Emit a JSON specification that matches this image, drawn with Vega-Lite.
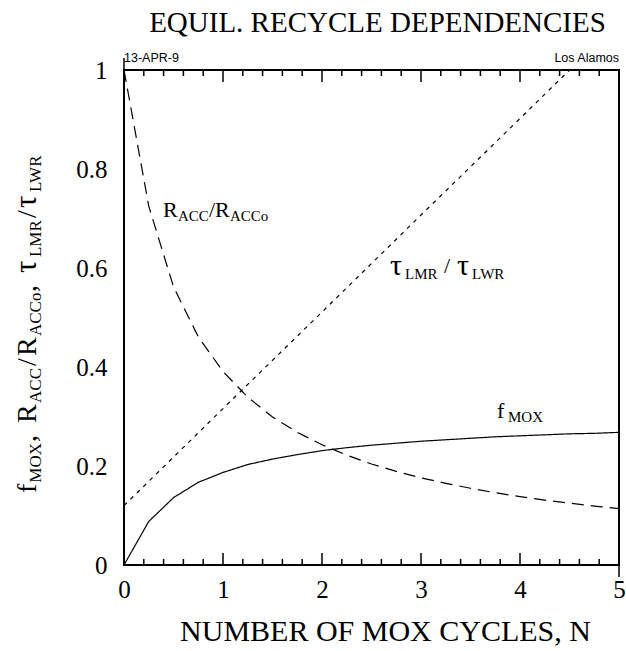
{
  "$schema": "https://vega.github.io/schema/vega-lite/v6.json",
  "width": 495,
  "height": 495,
  "autosize": "none",
  "padding": {"left": 124, "top": 70, "right": 7, "bottom": 86},
  "background": "white",
  "title": {"text": "EQUIL. RECYCLE DEPENDENCIES", "font": "Liberation Serif", "fontSize": 29, "fontWeight": "normal", "color": "black", "anchor": "middle", "dx": 6, "offset": 14},
  "config": {"view": {"stroke": "black", "strokeWidth": 2}, "font": "Liberation Serif"},
  "resolve": {"axis": {"x": "independent", "y": "independent"}},
  "datasets": {
    "curves": [
      {"series": "f", "N": 0, "v": 0}, {"series": "f", "N": 0.25, "v": 0.088}, {"series": "f", "N": 0.5, "v": 0.136}, {"series": "f", "N": 0.75, "v": 0.167}, {"series": "f", "N": 1, "v": 0.187}, {"series": "f", "N": 1.25, "v": 0.203}, {"series": "f", "N": 1.5, "v": 0.214}, {"series": "f", "N": 1.75, "v": 0.223}, {"series": "f", "N": 2, "v": 0.231}, {"series": "f", "N": 2.25, "v": 0.237}, {"series": "f", "N": 2.5, "v": 0.242}, {"series": "f", "N": 2.75, "v": 0.246}, {"series": "f", "N": 3, "v": 0.25}, {"series": "f", "N": 3.25, "v": 0.253}, {"series": "f", "N": 3.5, "v": 0.256}, {"series": "f", "N": 3.75, "v": 0.259}, {"series": "f", "N": 4, "v": 0.261}, {"series": "f", "N": 4.25, "v": 0.263}, {"series": "f", "N": 4.5, "v": 0.265}, {"series": "f", "N": 4.75, "v": 0.266}, {"series": "f", "N": 5, "v": 0.268},
      {"series": "R", "N": 0, "v": 1}, {"series": "R", "N": 0.25, "v": 0.725}, {"series": "R", "N": 0.5, "v": 0.562}, {"series": "R", "N": 0.75, "v": 0.461}, {"series": "R", "N": 1, "v": 0.391}, {"series": "R", "N": 1.25, "v": 0.339}, {"series": "R", "N": 1.5, "v": 0.299}, {"series": "R", "N": 1.75, "v": 0.268}, {"series": "R", "N": 2, "v": 0.243}, {"series": "R", "N": 2.25, "v": 0.222}, {"series": "R", "N": 2.5, "v": 0.204}, {"series": "R", "N": 2.75, "v": 0.189}, {"series": "R", "N": 3, "v": 0.176}, {"series": "R", "N": 3.25, "v": 0.165}, {"series": "R", "N": 3.5, "v": 0.155}, {"series": "R", "N": 3.75, "v": 0.146}, {"series": "R", "N": 4, "v": 0.138}, {"series": "R", "N": 4.25, "v": 0.131}, {"series": "R", "N": 4.5, "v": 0.125}, {"series": "R", "N": 4.75, "v": 0.119}, {"series": "R", "N": 5, "v": 0.114},
      {"series": "tau", "N": 0, "v": 0.12}, {"series": "tau", "N": 1, "v": 0.316}, {"series": "tau", "N": 2, "v": 0.511}, {"series": "tau", "N": 3, "v": 0.707}, {"series": "tau", "N": 4, "v": 0.902}, {"series": "tau", "N": 4.5, "v": 1.0}
    ],
    "xticks": [
      {"pos": 0, "kind": "major", "bottom": 0, "top": 1}, {"pos": 0.2, "kind": "minor", "bottom": 0, "top": 1}, {"pos": 0.4, "kind": "minor", "bottom": 0, "top": 1}, {"pos": 0.6, "kind": "minor", "bottom": 0, "top": 1}, {"pos": 0.8, "kind": "minor", "bottom": 0, "top": 1},
      {"pos": 1, "kind": "major", "bottom": 0, "top": 1}, {"pos": 1.2, "kind": "minor", "bottom": 0, "top": 1}, {"pos": 1.4, "kind": "minor", "bottom": 0, "top": 1}, {"pos": 1.6, "kind": "minor", "bottom": 0, "top": 1}, {"pos": 1.8, "kind": "minor", "bottom": 0, "top": 1},
      {"pos": 2, "kind": "major", "bottom": 0, "top": 1}, {"pos": 2.2, "kind": "minor", "bottom": 0, "top": 1}, {"pos": 2.4, "kind": "minor", "bottom": 0, "top": 1}, {"pos": 2.6, "kind": "minor", "bottom": 0, "top": 1}, {"pos": 2.8, "kind": "minor", "bottom": 0, "top": 1},
      {"pos": 3, "kind": "major", "bottom": 0, "top": 1}, {"pos": 3.2, "kind": "minor", "bottom": 0, "top": 1}, {"pos": 3.4, "kind": "minor", "bottom": 0, "top": 1}, {"pos": 3.6, "kind": "minor", "bottom": 0, "top": 1}, {"pos": 3.8, "kind": "minor", "bottom": 0, "top": 1},
      {"pos": 4, "kind": "major", "bottom": 0, "top": 1}, {"pos": 4.2, "kind": "minor", "bottom": 0, "top": 1}, {"pos": 4.4, "kind": "minor", "bottom": 0, "top": 1}, {"pos": 4.6, "kind": "minor", "bottom": 0, "top": 1}, {"pos": 4.8, "kind": "minor", "bottom": 0, "top": 1},
      {"pos": 5, "kind": "major", "bottom": 0, "top": 1}
    ],
    "yticks": [
      {"pos": 0, "kind": "major", "left": 0, "right": 5}, {"pos": 0.04, "kind": "minor", "left": 0, "right": 5}, {"pos": 0.08, "kind": "minor", "left": 0, "right": 5}, {"pos": 0.12, "kind": "minor", "left": 0, "right": 5}, {"pos": 0.16, "kind": "minor", "left": 0, "right": 5},
      {"pos": 0.2, "kind": "major", "left": 0, "right": 5}, {"pos": 0.24, "kind": "minor", "left": 0, "right": 5}, {"pos": 0.28, "kind": "minor", "left": 0, "right": 5}, {"pos": 0.32, "kind": "minor", "left": 0, "right": 5}, {"pos": 0.36, "kind": "minor", "left": 0, "right": 5},
      {"pos": 0.4, "kind": "major", "left": 0, "right": 5}, {"pos": 0.44, "kind": "minor", "left": 0, "right": 5}, {"pos": 0.48, "kind": "minor", "left": 0, "right": 5}, {"pos": 0.52, "kind": "minor", "left": 0, "right": 5}, {"pos": 0.56, "kind": "minor", "left": 0, "right": 5},
      {"pos": 0.6, "kind": "major", "left": 0, "right": 5}, {"pos": 0.64, "kind": "minor", "left": 0, "right": 5}, {"pos": 0.68, "kind": "minor", "left": 0, "right": 5}, {"pos": 0.72, "kind": "minor", "left": 0, "right": 5}, {"pos": 0.76, "kind": "minor", "left": 0, "right": 5},
      {"pos": 0.8, "kind": "major", "left": 0, "right": 5}, {"pos": 0.84, "kind": "minor", "left": 0, "right": 5}, {"pos": 0.88, "kind": "minor", "left": 0, "right": 5}, {"pos": 0.92, "kind": "minor", "left": 0, "right": 5}, {"pos": 0.96, "kind": "minor", "left": 0, "right": 5},
      {"pos": 1, "kind": "major", "left": 0, "right": 5}
    ],
    "labels": [
      {"kind": "main", "t": "R", "x": 0.394, "y": 0.703},
      {"kind": "sub", "t": "ACC", "x": 0.545, "y": 0.695},
      {"kind": "main", "t": "/", "x": 0.859, "y": 0.703},
      {"kind": "main", "t": "R", "x": 0.919, "y": 0.703},
      {"kind": "sub", "t": "ACCo", "x": 1.071, "y": 0.695},
      {"kind": "tau", "t": "τ", "x": 2.687, "y": 0.586},
      {"kind": "sub", "t": "LMR", "x": 2.839, "y": 0.578},
      {"kind": "main", "t": "/", "x": 3.233, "y": 0.59},
      {"kind": "tau", "t": "τ", "x": 3.364, "y": 0.586},
      {"kind": "sub", "t": "LWR", "x": 3.516, "y": 0.578},
      {"kind": "main", "t": "f", "x": 3.768, "y": 0.297},
      {"kind": "sub", "t": "MOX", "x": 3.879, "y": 0.289},
      {"kind": "ymain", "t": "f", "x": -0.889, "y": 0.1455},
      {"kind": "ysub", "t": "MOX", "x": -0.838, "y": 0.1663},
      {"kind": "ymain", "t": ",", "x": -0.889, "y": 0.2485},
      {"kind": "ymain", "t": "R", "x": -0.889, "y": 0.2869},
      {"kind": "ysub", "t": "ACC", "x": -0.838, "y": 0.3273},
      {"kind": "ymain", "t": "/", "x": -0.889, "y": 0.402},
      {"kind": "ymain", "t": "R", "x": -0.889, "y": 0.4222},
      {"kind": "ysub", "t": "ACCo", "x": -0.838, "y": 0.4626},
      {"kind": "ymain", "t": ",", "x": -0.889, "y": 0.5515},
      {"kind": "ytau", "t": "τ", "x": -0.889, "y": 0.5899},
      {"kind": "ysub", "t": "LMR", "x": -0.838, "y": 0.6222},
      {"kind": "ymain", "t": "/", "x": -0.889, "y": 0.701},
      {"kind": "ytau", "t": "τ", "x": -0.889, "y": 0.7212},
      {"kind": "ysub", "t": "LWR", "x": -0.838, "y": 0.7535},
      {"kind": "hdrL", "t": "13-APR-9", "x": 0, "y": 1.016},
      {"kind": "hdrR", "t": "Los Alamos", "x": 5, "y": 1.016}
    ]
  },
  "layer": [
    {
      "data": {"name": "curves"},
      "mark": {"type": "line", "color": "black", "strokeWidth": 1.2, "clip": true},
      "encoding": {
        "x": {"field": "N", "type": "quantitative", "scale": {"domain": [0, 5], "nice": false, "zero": false},
          "axis": {"orient": "bottom", "values": [0, 1, 2, 3, 4, 5], "ticks": false, "domain": false, "grid": false,
            "labelFont": "Liberation Serif", "labelFontSize": 25, "labelColor": "black", "labelPadding": 12, "labelFlush": false, "labelOverlap": false, "format": "~g",
            "title": "NUMBER OF MOX CYCLES, N", "titleFont": "Liberation Serif", "titleFontSize": 30, "titleFontWeight": "normal", "titleColor": "black", "titlePadding": 14, "titleX": 261, "titleAlign": "center"}},
        "y": {"field": "v", "type": "quantitative", "scale": {"domain": [0, 1], "nice": false, "zero": false},
          "axis": {"orient": "left", "values": [0, 0.2, 0.4, 0.6, 0.8, 1], "ticks": false, "domain": false, "grid": false,
            "labelFont": "Liberation Serif", "labelFontSize": 25, "labelColor": "black", "labelPadding": 17, "labelFlush": false, "labelOverlap": false, "format": "~g", "title": null}},
        "strokeDash": {"field": "series", "type": "nominal", "scale": {"domain": ["f", "R", "tau"], "range": [[1, 0], [12, 7], [4, 5]]}, "legend": null},
        "detail": {"field": "series"}
      }
    },
    {
      "data": {"name": "xticks"},
      "transform": [{"fold": ["bottom", "top"], "as": ["edge", "ev"]}],
      "mark": {"type": "point", "filled": false, "color": "black", "strokeWidth": 1.5, "opacity": 1},
      "encoding": {
        "x": {"field": "pos", "type": "quantitative", "scale": {"domain": [0, 5], "nice": false, "zero": false}, "axis": null},
        "y": {"field": "ev", "type": "quantitative", "scale": {"domain": [0, 1], "nice": false, "zero": false}, "axis": null},
        "shape": {"field": "edge", "type": "nominal", "scale": {"domain": ["bottom", "top"], "range": ["M0,0L0,-1", "M0,0L0,1"]}, "legend": null},
        "size": {"field": "kind", "type": "ordinal", "scale": {"domain": ["major", "minor"], "range": [576, 144]}, "legend": null}
      }
    },
    {
      "data": {"name": "yticks"},
      "transform": [{"fold": ["left", "right"], "as": ["edge", "ev"]}],
      "mark": {"type": "point", "filled": false, "color": "black", "strokeWidth": 1.5, "opacity": 1},
      "encoding": {
        "x": {"field": "ev", "type": "quantitative", "scale": {"domain": [0, 5], "nice": false, "zero": false}, "axis": null},
        "y": {"field": "pos", "type": "quantitative", "scale": {"domain": [0, 1], "nice": false, "zero": false}, "axis": null},
        "shape": {"field": "edge", "type": "nominal", "scale": {"domain": ["left", "right"], "range": ["M0,0L1,0", "M0,0L-1,0"]}, "legend": null},
        "size": {"field": "kind", "type": "ordinal", "scale": {"domain": ["major", "minor"], "range": [576, 144]}, "legend": null}
      }
    },
    {
      "data": {"name": "labels"},
      "transform": [{"filter": "datum.kind === 'main'"}],
      "mark": {"type": "text", "font": "Liberation Serif", "fontSize": 22, "align": "left", "baseline": "alphabetic", "color": "black"},
      "encoding": {
        "x": {"field": "x", "type": "quantitative", "scale": {"domain": [0, 5], "nice": false, "zero": false}, "axis": null},
        "y": {"field": "y", "type": "quantitative", "scale": {"domain": [0, 1], "nice": false, "zero": false}, "axis": null},
        "text": {"field": "t"}
      }
    },
    {
      "data": {"name": "labels"},
      "transform": [{"filter": "datum.kind === 'sub'"}],
      "mark": {"type": "text", "font": "Liberation Serif", "fontSize": 15, "align": "left", "baseline": "alphabetic", "color": "black"},
      "encoding": {
        "x": {"field": "x", "type": "quantitative", "scale": {"domain": [0, 5], "nice": false, "zero": false}, "axis": null},
        "y": {"field": "y", "type": "quantitative", "scale": {"domain": [0, 1], "nice": false, "zero": false}, "axis": null},
        "text": {"field": "t"}
      }
    },
    {
      "data": {"name": "labels"},
      "transform": [{"filter": "datum.kind === 'ymain'"}],
      "mark": {"type": "text", "font": "Liberation Serif", "fontSize": 28, "align": "left", "baseline": "alphabetic", "angle": 270, "color": "black"},
      "encoding": {
        "x": {"field": "x", "type": "quantitative", "scale": {"domain": [0, 5], "nice": false, "zero": false}, "axis": null},
        "y": {"field": "y", "type": "quantitative", "scale": {"domain": [0, 1], "nice": false, "zero": false}, "axis": null},
        "text": {"field": "t"}
      }
    },
    {
      "data": {"name": "labels"},
      "transform": [{"filter": "datum.kind === 'ysub'"}],
      "mark": {"type": "text", "font": "Liberation Serif", "fontSize": 17, "align": "left", "baseline": "alphabetic", "angle": 270, "color": "black"},
      "encoding": {
        "x": {"field": "x", "type": "quantitative", "scale": {"domain": [0, 5], "nice": false, "zero": false}, "axis": null},
        "y": {"field": "y", "type": "quantitative", "scale": {"domain": [0, 1], "nice": false, "zero": false}, "axis": null},
        "text": {"field": "t"}
      }
    },
    {
      "data": {"name": "labels"},
      "transform": [{"filter": "datum.kind === 'ytau'"}],
      "mark": {"type": "text", "font": "Liberation Serif", "fontSize": 31, "align": "left", "baseline": "alphabetic", "angle": 270, "color": "black"},
      "encoding": {
        "x": {"field": "x", "type": "quantitative", "scale": {"domain": [0, 5], "nice": false, "zero": false}, "axis": null},
        "y": {"field": "y", "type": "quantitative", "scale": {"domain": [0, 1], "nice": false, "zero": false}, "axis": null},
        "text": {"field": "t"}
      }
    },
    {
      "data": {"name": "labels"},
      "transform": [{"filter": "datum.kind === 'tau'"}],
      "mark": {"type": "text", "font": "Liberation Serif", "fontSize": 30, "align": "left", "baseline": "alphabetic", "color": "black"},
      "encoding": {
        "x": {"field": "x", "type": "quantitative", "scale": {"domain": [0, 5], "nice": false, "zero": false}, "axis": null},
        "y": {"field": "y", "type": "quantitative", "scale": {"domain": [0, 1], "nice": false, "zero": false}, "axis": null},
        "text": {"field": "t"}
      }
    },
    {
      "data": {"name": "labels"},
      "transform": [{"filter": "datum.kind === 'hdrL'"}],
      "mark": {"type": "text", "font": "Liberation Sans", "fontSize": 12.5, "align": "left", "baseline": "alphabetic", "color": "black"},
      "encoding": {
        "x": {"field": "x", "type": "quantitative", "scale": {"domain": [0, 5], "nice": false, "zero": false}, "axis": null},
        "y": {"field": "y", "type": "quantitative", "scale": {"domain": [0, 1], "nice": false, "zero": false}, "axis": null},
        "text": {"field": "t"}
      }
    },
    {
      "data": {"name": "labels"},
      "transform": [{"filter": "datum.kind === 'hdrR'"}],
      "mark": {"type": "text", "font": "Liberation Sans", "fontSize": 12.5, "align": "right", "baseline": "alphabetic", "color": "black"},
      "encoding": {
        "x": {"field": "x", "type": "quantitative", "scale": {"domain": [0, 5], "nice": false, "zero": false}, "axis": null},
        "y": {"field": "y", "type": "quantitative", "scale": {"domain": [0, 1], "nice": false, "zero": false}, "axis": null},
        "text": {"field": "t"}
      }
    }
  ]
}
